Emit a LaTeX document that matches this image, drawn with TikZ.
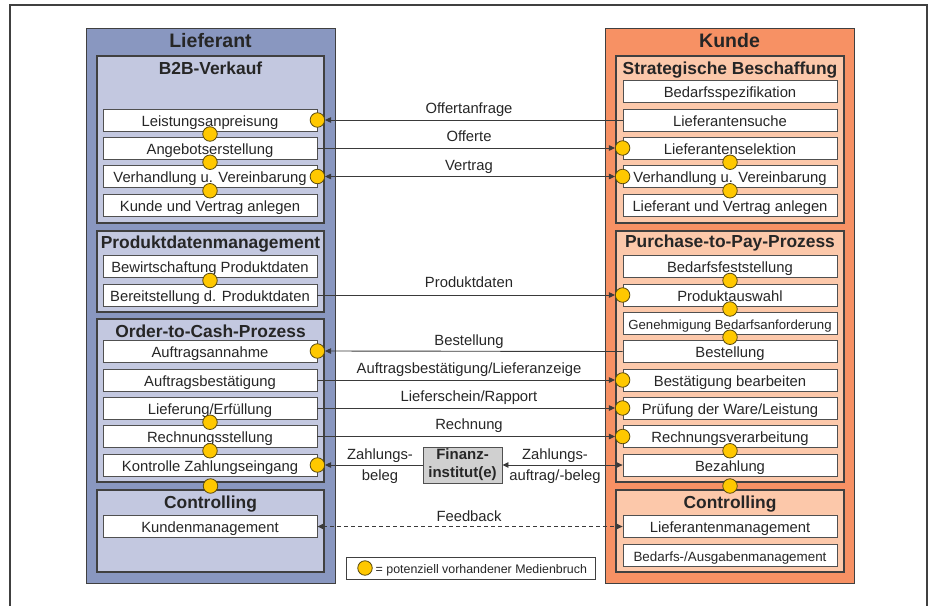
\documentclass[tikz,border=0pt]{standalone}
\usepackage{fontspec}
\setmainfont{Liberation Sans}
\usetikzlibrary{arrows.meta,calc}
\definecolor{lout}{HTML}{8997C0}
\definecolor{lin}{HTML}{C3C8E0}
\definecolor{rout}{HTML}{F79164}
\definecolor{rin}{HTML}{FCC8AA}
\definecolor{medy}{HTML}{FFC800}
\definecolor{medb}{HTML}{5A4A10}
\definecolor{bord}{HTML}{404040}
\definecolor{ibord}{HTML}{505050}
\definecolor{txt}{HTML}{262626}
\definecolor{lnc}{HTML}{3A3A3A}
\definecolor{fingray}{HTML}{D0D0D0}
\tikzset{
  outerbox/.style={draw=bord, line width=1pt, minimum width=249pt, minimum height=555pt, inner sep=0pt},
  secbox/.style={draw=bord, line width=1.1pt, minimum width=227pt, inner sep=0pt},
  item/.style={draw=ibord, line width=0.8pt, fill=white, minimum width=214pt, minimum height=22pt,
    inner sep=0pt, text height=12pt, text depth=0pt, text=txt, font=\fontsize{14.8}{17}\selectfont},
  maintitle/.style={anchor=base, text=txt, font=\bfseries\fontsize{19.5}{22}\selectfont, inner sep=0pt},
  sectitle/.style={anchor=base, text=txt, font=\bfseries\fontsize{17.4}{20}\selectfont, inner sep=0pt},
  medbruch/.style={circle, draw=medb, line width=0.8pt, fill=medy, minimum size=14.5pt, inner sep=0pt},
  lbl/.style={anchor=base, text=txt, font=\fontsize{14.8}{17}\selectfont, inner sep=0pt},
  arr/.style={draw=lnc, line width=0.9pt, -{Triangle[length=6pt,width=5.5pt]}},
  arrtwo/.style={draw=lnc, line width=0.9pt, {Triangle[length=6pt,width=5.5pt]}-{Triangle[length=6pt,width=5.5pt]}},
}
\begin{document}
\begin{tikzpicture}[x=1pt,y=-1pt]
\useasboundingbox (0,0) rectangle (931,605);
\clip (0,0) rectangle (931,605);
\draw[draw=bord, line width=1.4pt] (10,5) rectangle (927,625);

% outer boxes
\node[outerbox, fill=lout] (lief) at (210.5,305.5) {};
\node[outerbox, fill=rout] (kunde) at (729.5,305.5) {};
\node[maintitle] (tlief) at (210.5,47) {Lieferant};
\node[maintitle] (tkunde) at (729.5,47) {Kunde};

% left sections
\node[secbox, fill=lin, minimum height=167pt] (b2b) at (210.5,139.5) {};
\node[secbox, fill=lin, minimum height=81pt] (pdm) at (210.5,271.5) {};
\node[secbox, fill=lin, minimum height=163pt] (otc) at (210.5,400.5) {};
\node[secbox, fill=lin, minimum height=82pt] (lctrl) at (210.5,531) {};
\node[sectitle] (tb2b) at (210.5,74) {B2B-Verkauf};
\node[sectitle] (tpdm) at (210.5,248) {Produktdatenmanagement};
\node[sectitle] (totc) at (210.5,337) {Order-to-Cash-Prozess};
\node[sectitle] (tlctrl) at (210.5,508) {Controlling};

% right sections
\node[secbox, fill=rin, minimum width=228pt, minimum height=167pt] (sb) at (730,139.5) {};
\node[secbox, fill=rin, minimum width=228pt, minimum height=251pt] (p2p) at (730,356.5) {};
\node[secbox, fill=rin, minimum width=228pt, minimum height=82pt] (rctrl) at (730,531) {};
\node[sectitle] (tsb) at (730,74) {Strategische Beschaffung};
\node[sectitle] (tp2p) at (730,247) {Purchase-to-Pay-Prozess};
\node[sectitle] (trctrl) at (730,508) {Controlling};

% left items
\node[item] (l1) at (210,120) {Leistungsanpreisung};
\node[item] (l2) at (210,148) {Angebotserstellung};
\node[item] (l3) at (210,176.5) {Verhandlung u. Vereinbarung};
\node[item] (l4) at (210,205) {Kunde und Vertrag anlegen};
\node[item] (l5) at (210,266) {Bewirtschaftung Produktdaten};
\node[item] (l6) at (210,295) {Bereitstellung d. Produktdaten};
\node[item] (l7) at (210,351) {Auftragsannahme};
\node[item] (l8) at (210,380) {Auftragsbestätigung};
\node[item] (l9) at (210,408) {Lieferung/Erfüllung};
\node[item] (l10) at (210,436.5) {Rechnungsstellung};
\node[item] (l11) at (210,465) {Kontrolle Zahlungseingang};
\node[item] (l12) at (210,526.5) {Kundenmanagement};

% right items
\node[item] (r1) at (730,91.5) {Bedarfsspezifikation};
\node[item] (r2) at (730,120) {Lieferantensuche};
\node[item] (r3) at (730,148) {Lieferantenselektion};
\node[item] (r4) at (730,176.5) {Verhandlung u. Vereinbarung};
\node[item] (r5) at (730,205) {Lieferant und Vertrag anlegen};
\node[item] (r6) at (730,266) {Bedarfsfeststellung};
\node[item] (r7) at (730,295) {Produktauswahl};
\node[item, font=\fontsize{13.2}{16}\selectfont] (r8) at (730,323) {Genehmigung Bedarfsanforderung};
\node[item] (r9) at (730,351.5) {Bestellung};
\node[item] (r10) at (730,380) {Bestätigung bearbeiten};
\node[item] (r11) at (730,408) {Prüfung der Ware/Leistung};
\node[item] (r12) at (730,436.5) {Rechnungsverarbeitung};
\node[item] (r13) at (730,465) {Bezahlung};
\node[item] (r14) at (730,526.5) {Lieferantenmanagement};
\node[item, font=\fontsize{13.4}{16}\selectfont] (r15) at (730,555) {Bedarfs-/Ausgabenmanagement};

% financial institution
\node[draw=ibord, line width=0.9pt, fill=fingray, minimum width=79pt, minimum height=36pt, inner sep=0pt,
  align=center, text=txt, font=\bfseries\fontsize{15}{18}\selectfont] (fin) at (462.5,465) {Finanz-\\institut(e)};

% media-break circles on box edges
\node[medbruch] (cL1) at (l1.east) {};
\node[medbruch] (cL3) at (l3.east) {};
\node[medbruch] (cL7) at (l7.east) {};
\node[medbruch] (cL11) at (l11.east) {};
\node[medbruch] (cR3) at (r3.west) {};
\node[medbruch] (cR4) at (r4.west) {};
\node[medbruch] (cR7) at (r7.west) {};
\node[medbruch] (cR10) at (r10.west) {};
\node[medbruch] (cR11) at (r11.west) {};
\node[medbruch] (cR12) at (r12.west) {};

% connectors
\draw[arr] (r2.west) -- (cL1.east);
\draw[arr] (l2.east) -- (cR3.west);
\draw[arrtwo] (cL3.east) -- (cR4.west);
\draw[arr] (l6.east) -- (cR7.west);
\draw[arr] (r9.west) -- (cL7.east);
\draw[arr] (l8.east) -- (cR10.west);
\draw[arr] (l9.east) -- (cR11.west);
\draw[arr] (l10.east) -- (cR12.west);
\draw[arr] (fin.west) -- (cL11.east);
\draw[arrtwo] (fin.east) -- (r13.west);
\draw[arrtwo, dash pattern=on 4pt off 3pt] (l12.east) -- (r14.west);

% connector labels
\node[lbl] (t1) at (469,113) {Offertanfrage};
\node[lbl] (t2) at (469,141.5) {Offerte};
\node[lbl] (t3) at (469,170) {Vertrag};
\node[lbl] (t4) at (469,287) {Produktdaten};
\node[lbl] (t5) at (469,345) {Bestellung};
\node[lbl] (t6) at (469,373) {Auftragsbestätigung/Lieferanzeige};
\node[lbl] (t7) at (469,401.5) {Lieferschein/Rapport};
\node[lbl] (t8) at (469,429.5) {Rechnung};
\node[lbl] (t9) at (469,521.5) {Feedback};
\node[align=center, text=txt, font=\fontsize{14.8}{21}\selectfont, inner sep=0pt] (t10) at (380,466) {Zahlungs-\\beleg};
\node[align=center, text=txt, font=\fontsize{14.8}{21}\selectfont, inner sep=0pt] (t11) at (555,466) {Zahlungs-\\auftrag/-beleg};

% media-break circles between items
\node[medbruch] (cb1) at ($(l1.south)!.5!(l2.north)$) {};
\node[medbruch] (cb2) at ($(l2.south)!.5!(l3.north)$) {};
\node[medbruch] (cb3) at ($(l3.south)!.5!(l4.north)$) {};
\node[medbruch] (cb4) at ($(l5.south)!.5!(l6.north)$) {};
\node[medbruch] (cb5) at ($(l9.south)!.5!(l10.north)$) {};
\node[medbruch] (cb6) at ($(l10.south)!.5!(l11.north)$) {};
\node[medbruch] (cb7) at ($(otc.south)!.5!(lctrl.north)$) {};
\node[medbruch] (cb8) at ($(r3.south)!.5!(r4.north)$) {};
\node[medbruch] (cb9) at ($(r4.south)!.5!(r5.north)$) {};
\node[medbruch] (cb10) at ($(r6.south)!.5!(r7.north)$) {};
\node[medbruch] (cb11) at ($(r7.south)!.5!(r8.north)$) {};
\node[medbruch] (cb12) at ($(r8.south)!.5!(r9.north)$) {};
\node[medbruch] (cb13) at ($(r12.south)!.5!(r13.north)$) {};
\node[medbruch] (cb14) at ($(p2p.south)!.5!(rctrl.north)$) {};

% legend
\node[draw=bord, line width=0.9pt, fill=white, minimum width=249pt, minimum height=22pt, inner sep=0pt] (leg) at (470.5,568) {};
\node[medbruch] (legc) at (365,568) {};
\node[anchor=base west, text=txt, font=\fontsize{12.4}{15}\selectfont, inner sep=0pt] (legt) at (375.5,573) {= potenziell vorhandener Medienbruch};
\end{tikzpicture}
\end{document}
